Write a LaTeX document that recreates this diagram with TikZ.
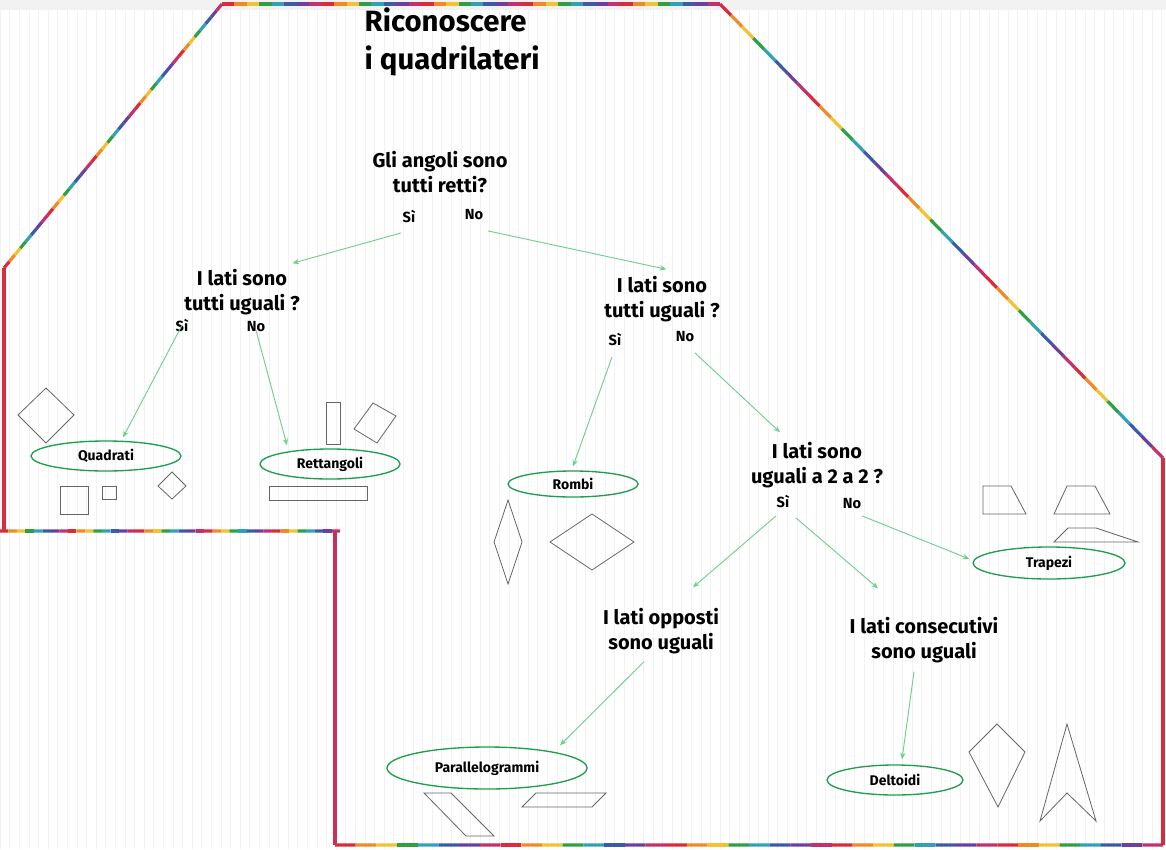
\documentclass[tikz,border=0pt]{standalone}
\usepackage{fontspec}
\setmainfont{Fira Sans}
\usetikzlibrary{arrows.meta,shapes.geometric,calc}
\definecolor{rb0}{HTML}{D92B3A}\definecolor{rb1}{HTML}{F08A24}\definecolor{rb2}{HTML}{F2C230}
\definecolor{rb3}{HTML}{2EA043}\definecolor{rb4}{HTML}{2FA3B5}\definecolor{rb5}{HTML}{3B5BA9}
\definecolor{rb6}{HTML}{6B3FA0}\definecolor{rb7}{HTML}{C2306E}
\definecolor{arr}{HTML}{6FD08C}\definecolor{ell}{HTML}{1E9E50}
\newcommand{\rbline}[4]{%
  \foreach \i in {0,...,39}{%
    \pgfmathtruncatemacro{\c}{mod(\i,8)}%
    \pgfmathsetmacro{\t}{\i/40}%
    \pgfmathsetmacro{\u}{(\i+1)/40}%
    \draw[rb\c,line width=2.4pt] ($(#1,#2)!\t!(#3,#4)$) -- ($(#1,#2)!\u!(#3,#4)$);}}
\tikzset{
  q/.style={font=\bfseries\fontsize{15}{19}\selectfont,align=center},
  yn/.style={font=\bfseries\fontsize{11}{13}\selectfont},
  cat/.style={ellipse,draw=ell,line width=1pt,font=\bfseries\fontsize{10.5}{12}\selectfont,inner sep=0pt},
  ar/.style={arr,line width=0.7pt,-{Stealth[length=5pt,width=4pt]}},
  shp/.style={gray!80!black,line width=0.6pt}
}
\begin{document}
\begin{tikzpicture}[x=0.75pt,y=-0.75pt]
\useasboundingbox (0,0) rectangle (1166,849);
\fill[white] (0,0) rectangle (1166,849);
\fill[gray!10] (0,0) rectangle (1166,10);
\draw[gray!10,line width=0.3pt,step=9.6] (0,10) grid (1166,849);
% border
\rbline{4}{268}{222}{4}
\rbline{222}{4}{720}{4}
\rbline{720}{4}{1163}{458}
\rbline{335}{845}{1163}{845}
\rbline{0}{531}{340}{531}
\draw[rb0,line width=2.4pt] (4,268) -- (4,531);
\draw[rb0,line width=2.4pt] (1163,458) -- (1163,845);
\draw[rb7!60!rb0,line width=2.4pt] (335,531) -- (335,845);
% title
\node[anchor=west,font=\bfseries\fontsize{22}{29}\selectfont,align=left] (title) at (360,42) {Riconoscere\\i quadrilateri};
% questions
\node[q] (q1) at (440,172) {Gli angoli sono\\tutti retti?};
\node[yn] (s1) at (409,216) {Sì};
\node[yn] (n1) at (474,215) {No};
\node[q] (q2) at (242,292) {I lati sono\\tutti uguali ?};
\node[yn] (s2) at (182,325) {Sì};
\node[yn] (n2) at (256,327) {No};
\node[q] (q3) at (662,299) {I lati sono\\tutti uguali ?};
\node[yn] (s3) at (615,339) {Sì};
\node[yn] (n3) at (685,337) {No};
\node[q] (q4) at (817,465) {I lati sono\\uguali a 2 a 2 ?};
\node[yn] (s4) at (783,501) {Sì};
\node[yn] (n4) at (852,504) {No};
\node[q] (q5) at (661,631) {I lati opposti\\sono uguali};
\node[q] (q6) at (924,640) {I lati consecutivi\\sono uguali};
% categories
\node[cat,minimum width=112.5pt,minimum height=22.5pt] (quad) at (106,456) {Quadrati};
\node[cat,minimum width=105pt,minimum height=22.5pt] (rett) at (330,464) {Rettangoli};
\node[cat,minimum width=97.5pt,minimum height=19.5pt] (romb) at (573,484) {Rombi};
\node[cat,minimum width=114pt,minimum height=24pt] (trap) at (1049,563) {Trapezi};
\node[cat,minimum width=150pt,minimum height=31.5pt] (para) at (487,768) {Parallelogrammi};
\node[cat,minimum width=102pt,minimum height=22.5pt] (delt) at (895,780) {Deltoidi};
% arrows
\draw[ar] ([shift={(-8,6)}]s1.south) -- ([shift={(-12,-1)}]q2.north east);
\draw[ar] ([shift={(14,6)}]n1.south) -- ([shift={(-58,-2)}]q3.north east);
\draw[ar] ([yshift=8]s2.south) -- ([shift={(17,-3)}]quad.north);
\draw[ar] ([yshift=5]n2.south) -- ([shift={(-43,-3)}]rett.north);
\draw[ar] ([shift={(-3,7)}]s3.south) -- ([shift={(0,-4)}]romb.north);
\draw[ar] ([shift={(10,6)}]n3.south) -- ([shift={(-37,-5)}]q4.north);
\draw[ar] ([shift={(-7,4)}]s4.south) -- ([shift={(32,-16)}]q5.north);
\draw[ar] ([shift={(13,6)}]s4.south) -- ([shift={(-46,-24)}]q6.north);
\draw[ar] ([shift={(10,2)}]n4.south) -- ([shift={(-3,-4)}]trap.west);
\draw[ar] ([shift={(-17,3)}]q5.south) -- ([shift={(73,-1)}]para.north);
\draw[ar] ([shift={(-10,4)}]q6.south) -- ([shift={(7,-5)}]delt.north);
% shapes
\draw[shp] (18,415) -- (46,388) -- (74,415) -- (46,443) -- cycle;
\draw[shp] (60,486) rectangle (88,514);
\draw[shp] (102,486) rectangle (116,499);
\draw[shp] (158,486) -- (172,472) -- (186,486) -- (172,499) -- cycle;
\draw[shp] (326,402) rectangle (340,444);
\draw[shp] (354,429) -- (373,403) -- (396,416) -- (377,443) -- cycle;
\draw[shp] (269,486) rectangle (367,500);
\draw[shp] (494,542) -- (508,500) -- (522,542) -- (508,584) -- cycle;
\draw[shp] (550,542) -- (592,514) -- (634,542) -- (592,570) -- cycle;
\draw[shp] (424,793) -- (451,793) -- (494,836) -- (466,836) -- cycle;
\draw[shp] (522,807) -- (536,793) -- (606,793) -- (592,807) -- cycle;
\draw[shp] (983,486) -- (1011,486) -- (1026,514) -- (983,514) -- cycle;
\draw[shp] (1054,514) -- (1067,486) -- (1095,486) -- (1110,514) -- cycle;
\draw[shp] (1054,542) -- (1068,528) -- (1096,528) -- (1138,542) -- cycle;
\draw[shp] (969,752) -- (997,724) -- (1025,752) -- (998,807) -- cycle;
\draw[shp] (1040,821) -- (1067,724) -- (1096,821) -- (1067,793) -- cycle;
\end{tikzpicture}
\end{document}
